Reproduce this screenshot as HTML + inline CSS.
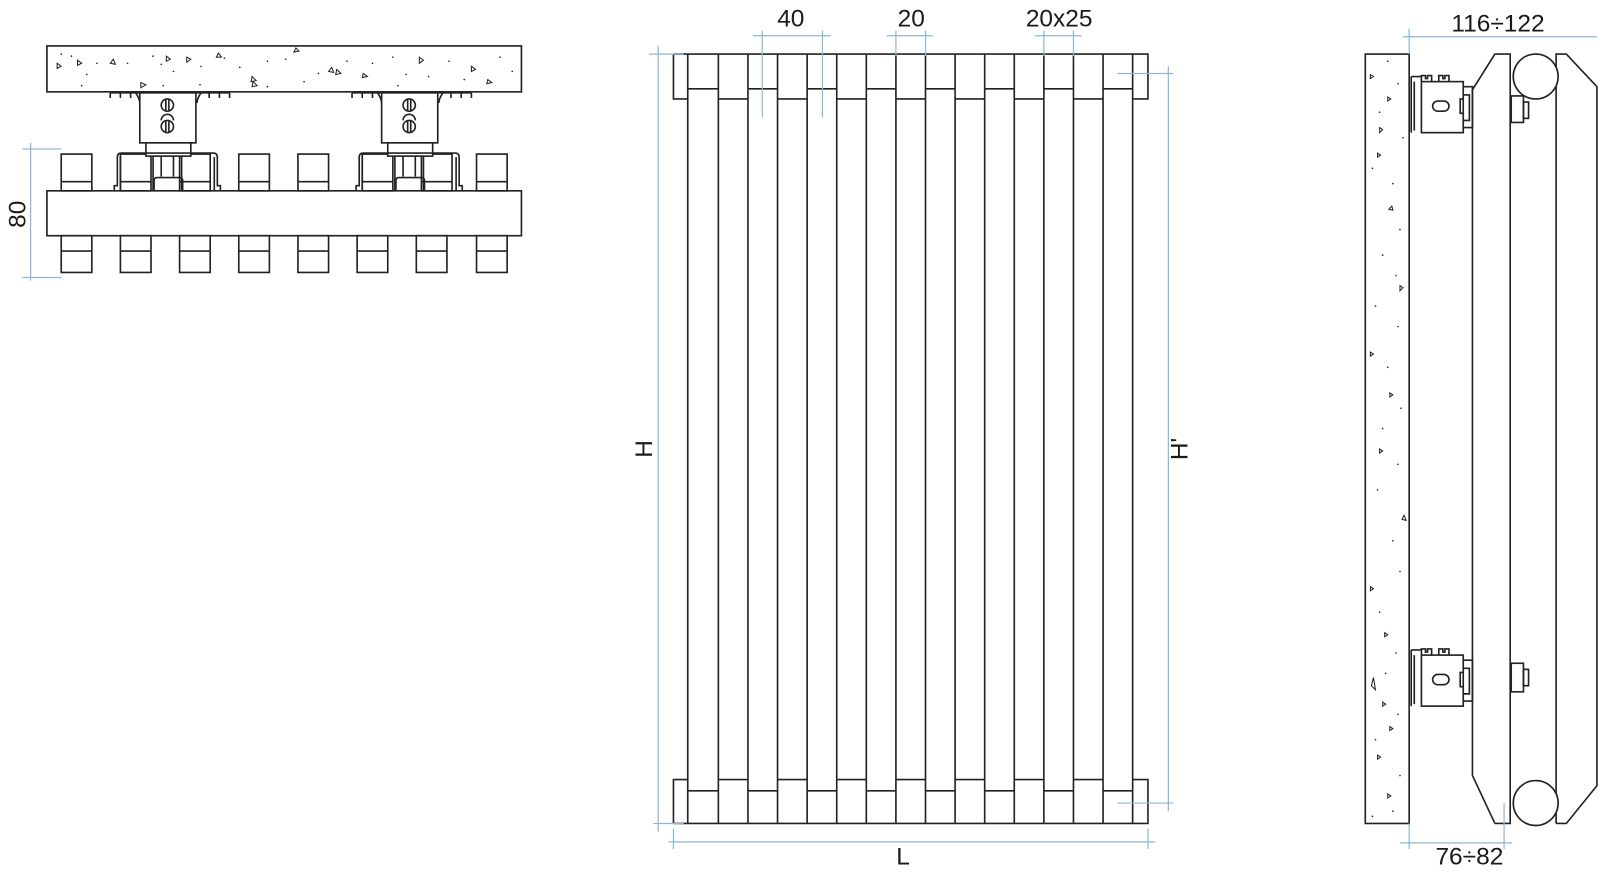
<!DOCTYPE html>
<html><head><meta charset="utf-8"><style>
html,body{margin:0;padding:0;background:#fff;}
svg{display:block;}
text{font-family:"Liberation Sans","DejaVu Sans",sans-serif;fill:#1a1a1a;}
</style></head><body>
<svg width="1600" height="871" viewBox="0 0 1600 871" xmlns="http://www.w3.org/2000/svg">
<g transform="scale(1.0204)">
<g stroke="#222" stroke-width="1.6" fill="none">
<rect x="46" y="45" width="465" height="45" fill="#fff"/>
<rect x="46" y="187" width="465" height="44" fill="#fff"/>
<g>
<rect x="60" y="151" width="30" height="36"/><line x1="60" y1="178" x2="90" y2="178"/>
<rect x="234" y="151" width="30" height="36"/><line x1="234" y1="178" x2="264" y2="178"/>
<rect x="292" y="151" width="30" height="36"/><line x1="292" y1="178" x2="322" y2="178"/>
<rect x="467" y="151" width="30" height="36"/><line x1="467" y1="178" x2="497" y2="178"/>
<rect x="118" y="151" width="30" height="36"/><line x1="118" y1="178" x2="148" y2="178"/>
<rect x="176" y="151" width="30" height="36"/><line x1="176" y1="178" x2="206" y2="178"/>
<rect x="355" y="151" width="30" height="36"/><line x1="355" y1="178" x2="385" y2="178"/>
<rect x="413" y="151" width="30" height="36"/><line x1="413" y1="178" x2="443" y2="178"/>
</g>
<g>
<rect x="60" y="231" width="30" height="36"/><line x1="60" y1="246" x2="90" y2="246"/>
<rect x="118" y="231" width="30" height="36"/><line x1="118" y1="246" x2="148" y2="246"/>
<rect x="176" y="231" width="30" height="36"/><line x1="176" y1="246" x2="206" y2="246"/>
<rect x="234" y="231" width="30" height="36"/><line x1="234" y1="246" x2="264" y2="246"/>
<rect x="292" y="231" width="30" height="36"/><line x1="292" y1="246" x2="322" y2="246"/>
<rect x="350" y="231" width="30" height="36"/><line x1="350" y1="246" x2="380" y2="246"/>
<rect x="408" y="231" width="30" height="36"/><line x1="408" y1="246" x2="438" y2="246"/>
<rect x="467" y="231" width="30" height="36"/><line x1="467" y1="246" x2="497" y2="246"/>
</g>
<g id="br">
<path d="M108 91 H225 M108 91 v5 M118 91 v5 M128 91 v5 M205 91 v5 M215 91 v5 M225 91 v5"/>
<path d="M133 91 q4 6 4 10 M197 91 q-4 6 -4 10"/>
<rect x="137" y="91" width="55" height="49" fill="#fff"/>
<rect x="143" y="140" width="44" height="13" fill="#fff"/>
<circle cx="164" cy="103" r="6"/><line x1="162.5" y1="97" x2="162.5" y2="109"/><line x1="165.5" y1="97" x2="165.5" y2="109"/>
<path d="M158 118 a6 6 0 0 1 12 0"/>
<circle cx="164" cy="124" r="6"/><line x1="162.5" y1="118" x2="162.5" y2="130"/><line x1="165.5" y1="118" x2="165.5" y2="130"/>
<path d="M112 187 v-5 h3 v-28 q0 -4 4 -4 h90 q4 0 4 4 v28 h3 v5"/>
<path d="M118 187 v-33 M210 187 v-33"/>
<path d="M150 153 v34 M158 153 v20 M170 153 v20 M178 153 v34"/>
<path d="M151 187 v-10 q0 -3 3 -3 h22 q3 0 3 3 v10"/>
</g>
<use href="#br" x="237"/>
<g stroke-width="1" fill="none">
<path d="M56 62 l4 3 l-4 2z M76 59 l4 3 l-4 2z M108 62 l3 -4 l2 5z M163 55 l4 3 l-4 2z M183 56 l4 2 l-4 3z M214 52 l3 4 l-5 0z M138 81 l5 2 l-5 3z M247 75 l4 4 l-5 1z M248 80 l4 4 l-5 1z M330 68 l4 4 l-5 1z M322 70 l3 -4 l2 5z M356 72 l4 3 l-5 1z M411 56 l4 3 l-4 3z M462 65 l4 3 l-4 2z M478 78 l4 3 l-5 1z M290 47 l3 3 l-5 1z"/>
</g>
<g fill="#222" stroke="none">
<circle cx="60" cy="53" r=".8"/><circle cx="70" cy="55" r=".8"/><circle cx="95" cy="62" r=".8"/><circle cx="85" cy="73" r=".8"/><circle cx="125" cy="62" r=".8"/><circle cx="150" cy="55" r=".8"/><circle cx="158" cy="63" r=".8"/><circle cx="170" cy="70" r=".8"/><circle cx="197" cy="65" r=".8"/><circle cx="220" cy="57" r=".8"/><circle cx="235" cy="66" r=".8"/><circle cx="262" cy="60" r=".8"/><circle cx="280" cy="58" r=".8"/><circle cx="298" cy="80" r=".8"/><circle cx="312" cy="72" r=".8"/><circle cx="340" cy="60" r=".8"/><circle cx="365" cy="62" r=".8"/><circle cx="385" cy="56" r=".8"/><circle cx="398" cy="73" r=".8"/><circle cx="420" cy="75" r=".8"/><circle cx="440" cy="60" r=".8"/><circle cx="455" cy="78" r=".8"/><circle cx="490" cy="56" r=".8"/><circle cx="502" cy="70" r=".8"/><circle cx="80" cy="84" r=".8"/><circle cx="196" cy="83" r=".8"/><circle cx="262" cy="85" r=".8"/><circle cx="160" cy="84" r=".8"/><circle cx="390" cy="84" r=".8"/>
</g>

<path d="M660 53 H1125 V97 H1110 M660 53 V97 H674 M660 807 H1125 V764 H1110 M660 807 V764 H674"/>
<path d="M674 53V807 M704 53V807 M733 53V807 M762 53V807 M791 53V807 M820 53V807 M849 53V807 M878 53V807 M907 53V807 M936 53V807 M965 53V807 M994 53V807 M1023 53V807 M1052 53V807 M1081 53V807 M1110 53V807"/>
<path d="M674 87H704 M733 87H762 M791 87H820 M849 87H878 M907 87H936 M965 87H994 M1023 87H1052 M1081 87H1110
M704 97H733 M762 97H791 M820 97H849 M878 97H907 M936 97H965 M994 97H1023 M1052 97H1081
M674 775H704 M733 775H762 M791 775H820 M849 775H878 M907 775H936 M965 775H994 M1023 775H1052 M1081 775H1110
M704 764H733 M762 764H791 M820 764H849 M878 764H907 M936 764H965 M994 764H1023 M1052 764H1081"/>

<rect x="1338" y="53" width="43" height="754" fill="#fff"/>
<g id="rb">
<path d="M1383 75 V130 M1383 75 H1393 M1386 80 V128"/>
<rect x="1393" y="80" width="41" height="50" fill="#fff"/>
<path d="M1393 80 v-6 h4 v3 h2 v-3 h4 v6 M1410 80 v-6 h4 v3 h2 v-3 h4 v6"/>
<rect x="1404" y="99" width="16" height="10" rx="5"/>
<path d="M1434 85 H1443 V125 H1434 M1434 93 H1440 V118 H1434 M1434 97 h-3 v14 h3"/>
</g>
<use href="#rb" y="562"/>
<path d="M1465 807 L1443 760 V88 L1465 53 H1480 V807 H1465"/>
<path d="M1525 807 V53 H1535 L1565 85 V770 L1535 807 H1525"/>
<circle cx="1505" cy="75" r="22" fill="#fff"/>
<circle cx="1505" cy="787" r="22" fill="#fff"/>
<rect x="1481" y="94" width="12" height="26"/><rect x="1493" y="100" width="5" height="16"/>
<rect x="1481" y="650" width="12" height="28"/><rect x="1493" y="656" width="5" height="16"/>
<g stroke-width="1" fill="none">
<path d="M1343 73 l3 2 l-3 2z M1360 95 l3 2 l-3 2z M1352 125 l3 2 l-3 3z M1350 150 l3 2 l-3 2z M1361 205 l3 -3 l1 4z M1372 280 l3 2 l-3 3z M1343 345 l3 2 l-3 2z M1362 385 l3 2 l-3 2z M1352 440 l3 2 l-3 2z M1376 505 l2 5 l-4 -1z M1343 575 l3 2 l-3 2z M1357 620 l3 2 l-3 2z M1344 672 l2 -8 l2 12z M1355 688 l3 2 l-3 2z M1362 712 l3 2 l-3 2z M1350 740 l3 2 l-3 2z M1360 778 l3 2 l-3 2z"/>
</g>
<g fill="#222" stroke="none">
<circle cx="1360" cy="60" r=".8"/><circle cx="1370" cy="82" r=".8"/><circle cx="1352" cy="110" r=".8"/><circle cx="1375" cy="135" r=".8"/><circle cx="1345" cy="165" r=".8"/><circle cx="1365" cy="180" r=".8"/><circle cx="1372" cy="225" r=".8"/><circle cx="1355" cy="250" r=".8"/><circle cx="1368" cy="270" r=".8"/><circle cx="1348" cy="300" r=".8"/><circle cx="1370" cy="320" r=".8"/><circle cx="1360" cy="360" r=".8"/><circle cx="1373" cy="400" r=".8"/><circle cx="1355" cy="420" r=".8"/><circle cx="1370" cy="455" r=".8"/><circle cx="1350" cy="480" r=".8"/><circle cx="1365" cy="530" r=".8"/><circle cx="1372" cy="560" r=".8"/><circle cx="1352" cy="600" r=".8"/><circle cx="1368" cy="640" r=".8"/><circle cx="1358" cy="660" r=".8"/><circle cx="1370" cy="700" r=".8"/><circle cx="1348" cy="725" r=".8"/><circle cx="1372" cy="760" r=".8"/><circle cx="1345" cy="800" r=".8"/><circle cx="1365" cy="795" r=".8"/>
</g>
</g>

<g stroke="#8fb6d6" stroke-width="1.2" fill="none">
<path d="M22 146 H60 M22 272 H60 M30 140 V275"/>
<path d="M636 53 H670 M645 45 V815 M640 807 H670"/>
<path d="M1095 72 H1150 M1145 65 V795 M1095 787 H1150"/>
<path d="M655 825 H1132 M660 812 V832 M1125 812 V832"/>
<path d="M738 35 H814 M747 30 V115 M806 30 V115"/>
<path d="M869 35 H914 M878 30 V55 M907 30 V55"/>
<path d="M1014 35 H1060 M1023 30 V55 M1052 30 V55"/>
<path d="M1375 36 H1565 M1381 28 V53"/>
<path d="M1372 826 H1482 M1381 807 V832 M1474 787 V832"/>
</g>

<text x="775" y="26" font-size="24" text-anchor="middle">40</text>
<text x="893" y="26" font-size="24" text-anchor="middle">20</text>
<text x="1038" y="26" font-size="24" text-anchor="middle">20x25</text>
<text x="1468" y="31" font-size="24" text-anchor="middle">116÷122</text>
<text x="1440" y="847" font-size="24" text-anchor="middle">76÷82</text>
<text x="885" y="847" font-size="24" text-anchor="middle">L</text>
<text transform="translate(639,440) rotate(-90)" font-size="24" text-anchor="middle">H</text>
<text transform="translate(1164,440) rotate(-90)" font-size="24" text-anchor="middle">H'</text>
<text transform="translate(25,210) rotate(-90)" font-size="24" text-anchor="middle">80</text>
</g>
</svg>
</body></html>
